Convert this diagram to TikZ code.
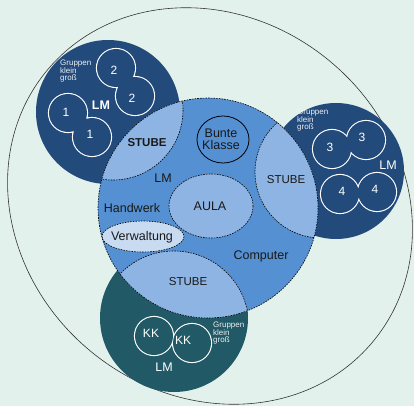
\documentclass[tikz,border=0pt]{standalone}
\usepackage{fontspec}
\setmainfont{Liberation Sans}

\definecolor{mint}{HTML}{E3F1EC}
\definecolor{navy}{HTML}{224A7B}
\definecolor{petrol}{HTML}{215A66}
\definecolor{midblue}{HTML}{5590D2}
\definecolor{paleblue}{HTML}{8EB4E3}
\definecolor{palest}{HTML}{C8DBF1}

\begin{document}
\begin{tikzpicture}[x=1pt, y=-1pt,
	ring/.style={draw=black!80, line width=0.6pt},
	dots/.style={draw=black, line width=0.6pt, dash pattern=on 1.6pt off 1.1pt},
	pairline/.style={draw=white, line width=2.2pt},
	lbl/.style={font=\fontsize{12.5}{11.7}\selectfont, text=black!90, inner sep=0pt},
	stubelbl/.style={font=\fontsize{11.5}{12}\selectfont, text=black!90, inner sep=0pt},
	wlbl/.style={font=\fontsize{12}{12}\selectfont, text=white, inner sep=0pt},
	grpnote/.style={font=\fontsize{8}{7.6}\selectfont, text=white!92!navy, align=left, inner sep=0pt, anchor=north west}]
	
	\useasboundingbox (0,0) rectangle (414,406);
	\fill[mint] (0,0) rectangle (414,406);
	
	\coordinate (O) at (210,206);
	\coordinate (M) at (208,208);
	\coordinate (TL) at (108,112);
	\coordinate (R) at (336,171);
	\coordinate (B) at (174,318);
	
	% Outer ring, slightly tilted
	\draw[ring, rotate around={-40:(O)}] (O) ellipse [x radius=212, y radius=188];
	
	% Group circles
	\fill[navy] (TL) circle (72);
	\fill[navy] (R) circle (68);
	\fill[petrol] (B) circle (74);
	
	% Pairs of rooms, white outline
	\foreach \ax/\ay/\bx/\by/\bg in {68/113/92/137/navy, 116/68/135/96/navy, 332/149/366/140/navy, 340/194/377/192/navy, 154/336/192/343/petrol} {
		\draw[pairline] (\ax,\ay) circle (19) (\bx,\by) circle (19);
		\fill[\bg] (\ax,\ay) circle (19) (\bx,\by) circle (19);
	}
	
	% Main circle
	\fill[midblue] (M) circle (110);
	
	% STUBE parts
	\begin{scope}
		\clip (M) circle (110);
		\foreach \cx/\cy/\r in {113/110/70, 321/172/66, 174/326/75} {
			\fill[paleblue] (\cx,\cy) circle (\r);
			\draw[dots] (\cx,\cy) circle (\r);
		}
	\end{scope}
	
	% Rooms inside
	\draw[dots, fill=paleblue] (211,206) ellipse [x radius=42, y radius=32];
	\draw[dots, fill=palest] (143,236.5) ellipse [x radius=41, y radius=15.5];
	\draw[black, line width=0.8pt] (223,139.5) ellipse [x radius=26, y radius=23.5];
	
	\draw[dots] (M) circle (110);
	
	% Labels in the main circle
	\node[stubelbl, font=\fontsize{11.5}{12}\selectfont\bfseries] (stubeTL) at (147,143) {STUBE};
	\node[stubelbl] (stubeR) at (286,180) {STUBE};
	\node[stubelbl] (stubeB) at (188,282) {STUBE};
	\node[lbl] (lmMain) at (163,178) {LM};
	\node[lbl] (handwerk) at (132,208) {Handwerk};
	\node[lbl] (verwaltung) at (142,237) {Verwaltung};
	\node[lbl] (aula) at (210,206) {AULA};
	\node[lbl, align=center] (bunte) at (221,139) {Bunte\\Klasse};
	\node[lbl] (computer) at (261,256) {Computer};
	
	% Labels in the group circles
	\node[wlbl, font=\fontsize{12.5}{12}\selectfont\bfseries] (lmTL) at (101,105) {LM};
	\node[wlbl, font=\fontsize{12.5}{12}\selectfont] (lmR) at (388,165) {LM};
	\node[wlbl, font=\fontsize{12.5}{12}\selectfont] (lmB) at (164,367) {LM};
	\node[grpnote] (grpTL) at (60,60) {Gruppen\\klein\\groß};
	\node[grpnote] (grpR) at (297,109) {Gruppen\\klein\\groß};
	\node[grpnote] (grpB) at (213,322) {Gruppen\\klein\\groß};
	
	% Room numbers
	\foreach \x/\y/\txt [count=\i] in {66/112/1, 90/134/1, 114/70/2, 132/98/2, 330/147/3, 362/137/3, 342/191/4, 375/189/4, 151/333/KK, 183/340/KK} {
		\node[wlbl] (nr\i) at (\x,\y) {\txt};
	}
	
\end{tikzpicture}
\end{document}
